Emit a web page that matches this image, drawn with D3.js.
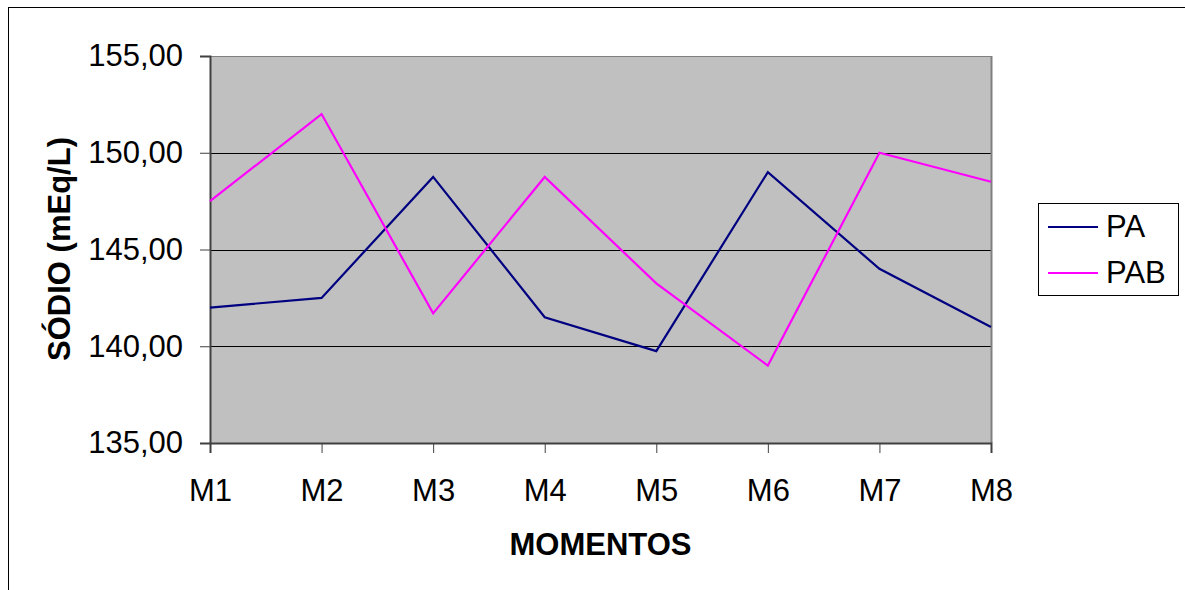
<!DOCTYPE html>
<html>
<head>
<meta charset="utf-8">
<script src="https://cdn.jsdelivr.net/npm/d3@7"></script>
<style>
  html, body { margin: 0; padding: 0; background: #fff; }
  svg { display: block; font-family: "Liberation Sans", Arial, sans-serif; }
</style>
</head>
<body>
<svg id="chart" width="1185" height="590"></svg>
<script>
// Sodium levels (mEq/L) per moment for both groups
const categories = ["M1", "M2", "M3", "M4", "M5", "M6", "M7", "M8"];
const seriesNames = ["PA", "PAB"];
const valuesPA  = [142.0, 142.5, 148.75, 141.5, 139.75, 149.0, 144.0, 141.0];
const valuesPAB = [147.5, 152.0, 141.7, 148.75, 143.25, 139.0, 150.0, 148.5];
const yTicks = [135, 140, 145, 150, 155];
const seriesColors = ["#000080", "#FF00FF"];

const FS = 31;
const svg = d3.select("#chart");
const plot = { left: 210, top: 56, right: 991, bottom: 443 };

// Outer chart frame
svg.append("rect")
  .attr("x", 8.5).attr("y", 7.5)
  .attr("width", 1200).attr("height", 600)
  .attr("fill", "#fff").attr("stroke", "#000").attr("stroke-width", 1);

const x = d3.scalePoint().domain(categories).range([plot.left, plot.right]);
const y = d3.scaleLinear().domain([135, 155]).range([plot.bottom, plot.top]);

// Plot background
svg.append("rect")
  .attr("x", plot.left).attr("y", plot.top)
  .attr("width", plot.right - plot.left).attr("height", plot.bottom - plot.top)
  .attr("fill", "#C0C0C0");

// Horizontal gridlines
svg.append("g").selectAll("line").data(yTicks).join("line")
  .attr("x1", plot.left).attr("x2", plot.right)
  .attr("y1", d => Math.round(y(d)) + 0.5).attr("y2", d => Math.round(y(d)) + 0.5)
  .attr("stroke", "#000").attr("stroke-width", 1);

// Plot border (right and top in gray)
svg.append("line")
  .attr("x1", plot.right + 0.5).attr("x2", plot.right + 0.5)
  .attr("y1", plot.top).attr("y2", plot.bottom)
  .attr("stroke", "#808080").attr("stroke-width", 2);
svg.append("line")
  .attr("x1", plot.left).attr("x2", plot.right)
  .attr("y1", plot.top + 0.5).attr("y2", plot.top + 0.5)
  .attr("stroke", "#808080").attr("stroke-width", 1);

const fmt = d => d.toFixed(2).replace(".", ",");

// Y axis
const yAxis = svg.append("g")
  .attr("transform", `translate(${plot.left},0)`)
  .call(d3.axisLeft(y).tickValues(yTicks).tickFormat(fmt).tickSize(10).tickPadding(17));
yAxis.select(".domain").attr("stroke", "#404040").attr("stroke-width", 2);
yAxis.selectAll(".tick line").attr("stroke", "#404040");
yAxis.selectAll(".tick text")
  .attr("font-size", FS).attr("fill", "#000")
  .attr("font-family", "'Liberation Sans', Arial, sans-serif");

// X axis
const xAxis = svg.append("g")
  .attr("transform", `translate(0,${plot.bottom})`)
  .call(d3.axisBottom(x).tickSize(10).tickPadding(26));
xAxis.select(".domain").attr("stroke", "#404040").attr("stroke-width", 2);
xAxis.selectAll(".tick line").attr("stroke", "#404040");
xAxis.selectAll(".tick text")
  .attr("font-size", FS).attr("fill", "#000")
  .attr("font-family", "'Liberation Sans', Arial, sans-serif");

// Series lines
const line = d3.line().x((d, i) => x(categories[i])).y(d => y(d));
[valuesPA, valuesPAB].forEach((vals, i) => {
  svg.append("path")
    .datum(vals)
    .attr("d", line)
    .attr("fill", "none")
    .attr("stroke", seriesColors[i])
    .attr("stroke-width", 2.2)
    .attr("stroke-linejoin", "miter");
});

// Axis titles
svg.append("text")
  .attr("x", (plot.left + plot.right) / 2).attr("y", 555)
  .attr("text-anchor", "middle")
  .attr("font-size", FS).attr("font-weight", "bold")
  .text("MOMENTOS");

svg.append("text")
  .attr("transform", `translate(70,249) rotate(-90)`)
  .attr("text-anchor", "middle")
  .attr("font-size", FS).attr("font-weight", "bold")
  .text("SÓDIO (mEq/L)");

// Legend
const legend = svg.append("g");
legend.append("rect")
  .attr("x", 1038.5).attr("y", 203.5)
  .attr("width", 140).attr("height", 92)
  .attr("fill", "#fff").attr("stroke", "#000").attr("stroke-width", 1);
seriesNames.forEach((name, i) => {
  const ly = 227 + i * 46;
  legend.append("line")
    .attr("x1", 1048).attr("x2", 1098)
    .attr("y1", ly).attr("y2", ly)
    .attr("stroke", seriesColors[i]).attr("stroke-width", 2.2);
  legend.append("text")
    .attr("x", 1106).attr("y", ly + 10)
    .attr("font-size", FS)
    .text(name);
});
</script>
</body>
</html>
